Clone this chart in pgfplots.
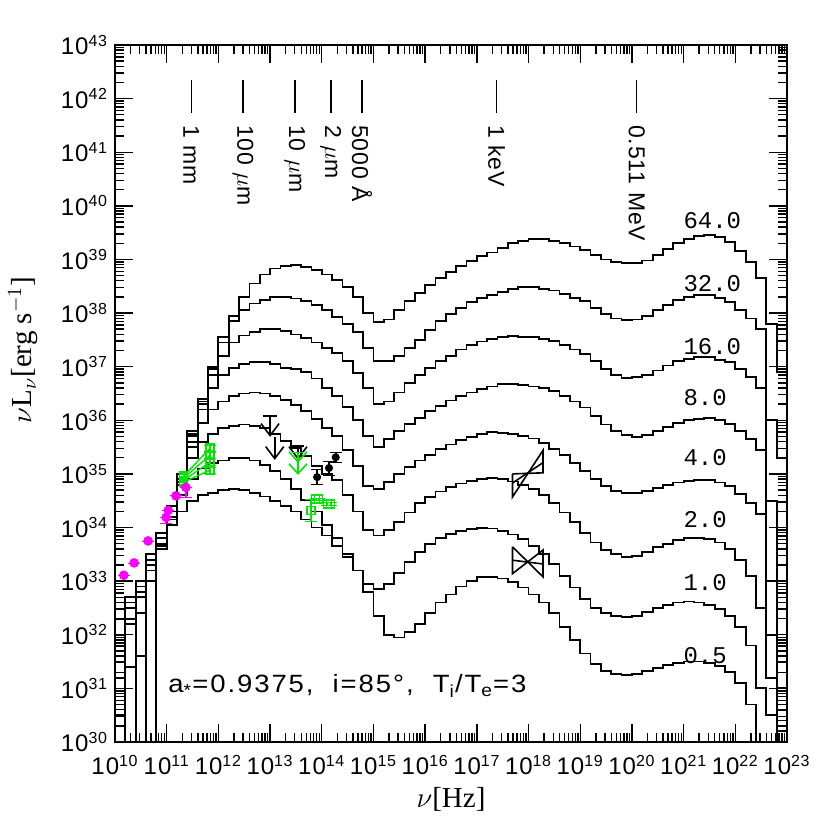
\documentclass[border=0pt]{standalone}
\usepackage{pgfplots}
\pgfplotsset{compat=1.18}
\usepackage{pgfplotstable}
\usetikzlibrary{arrows.meta}
\usepackage{fontspec}
\setmainfont{Liberation Sans}
\newfontfamily\serif{Liberation Serif}
\newfontfamily\mono{Liberation Mono}
\newfontfamily\wide[LetterSpace=7]{Liberation Sans}
\newfontfamily\tickf[LetterSpace=4]{Liberation Sans}
\definecolor{mag}{RGB}{255,0,255}
\definecolor{grn}{RGB}{0,230,0}
\pgfplotsset{/pgfplots/table/lg/.style={x expr={10^(\thisrow{x})}, y expr={10^(\thisrow{y})}}}

\pgfplotstableread{
x c64 c32 c16 c8 c4 c2 c1 c05
10.0 31.2 29 32.0 30.5 31.8 32.3 29 31.5
10.2 32.5 32.7 31.4 32.6 29 32.2 32.6 32.3
10.4 29 32.9 33.0 32.4 32.8 31.6 32.7 32.8
10.6 33.3 33.0 33.4 33.5 33.2 33.4 33.3 29
10.8 33.9 33.7 33.6 33.9 33.8 33.7 33.7 33.65
11.0 34.4 34.3 34.4 34.3 34.2 34.2 34.15 34.05
11.2 35.0 35.0 35.0 34.9 34.85 34.8 34.6 34.3
11.4 35.8 35.75 35.7 35.6 35.5 35.3 34.9 34.5
11.6 36.4 36.35 36.3 36.2 35.95 35.6 35.1 34.6
11.8 37.0 36.95 36.85 36.6 36.2 35.75 35.2 34.65
12.0 37.55 37.45 37.2 36.85 36.35 35.85 35.25 34.7
12.2 37.95 37.85 37.45 36.97 36.45 35.9 35.29 34.72
12.4 38.3 38.05 37.58 37.05 36.5 35.92 35.29 34.7
12.6 38.55 38.18 37.65 37.08 36.52 35.9 35.25 34.64
12.8 38.72 38.25 37.7 37.09 36.5 35.85 35.17 34.58
13.0 38.83 38.3 37.7 37.05 36.45 35.75 35.05 34.5
13.2 38.88 38.3 37.66 36.98 36.38 35.62 34.9 34.4
13.4 38.9 38.27 37.6 36.95 36.28 35.48 34.72 34.3
13.6 38.86 38.23 37.54 36.9 36.18 35.33 34.52 34.15
13.8 38.8 38.15 37.45 36.78 36.02 35.15 34.3 34.0
14.0 38.72 38.05 37.35 36.6 35.85 35.0 34.05 33.85
14.2 38.62 37.93 37.25 36.45 35.7 34.88 33.8 33.65
14.4 38.48 37.8 37.1 36.25 35.45 34.6 33.5 33.45
14.6 38.3 37.64 36.88 36.0 35.15 34.3 33.2 33.2
14.8 38.0 37.35 36.6 35.7 34.78 33.95 32.95 32.8
15.0 37.83 37.1 36.3 35.5 34.72 33.85 32.85 32.35
15.2 37.88 37.1 36.35 35.65 34.85 33.95 32.95 32.0
15.4 38.05 37.2 36.52 35.8 35.0 34.1 33.15 31.95
15.6 38.22 37.35 36.7 35.93 35.13 34.28 33.35 32.05
15.8 38.38 37.5 36.85 36.05 35.25 34.45 33.55 32.2
16.0 38.52 37.68 36.98 36.17 35.36 34.57 33.7 32.4
16.2 38.65 37.85 37.1 36.27 35.46 34.67 33.8 32.6
16.4 38.76 37.98 37.2 36.37 35.55 34.75 33.88 32.75
16.6 38.88 38.1 37.32 36.45 35.63 34.82 33.93 32.9
16.8 38.97 38.2 37.4 36.52 35.69 34.87 33.97 33.0
17.0 39.06 38.28 37.47 36.58 35.74 34.9 33.99 33.07
17.2 39.13 38.34 37.52 36.63 35.78 34.92 33.98 33.08
17.4 39.22 38.4 37.55 36.67 35.77 34.9 33.94 33.05
17.6 39.3 38.45 37.57 36.68 35.75 34.86 33.87 32.98
17.8 39.35 38.49 37.56 36.66 35.71 34.8 33.78 32.88
18.0 39.38 38.48 37.55 36.63 35.66 34.72 33.65 32.75
18.2 39.38 38.45 37.52 36.6 35.58 34.6 33.5 32.6
18.4 39.34 38.42 37.48 36.55 35.47 34.45 33.32 32.4
18.6 39.3 38.35 37.4 36.45 35.35 34.28 33.1 32.15
18.8 39.24 38.28 37.32 36.35 35.2 34.1 32.88 31.9
19.0 39.17 38.22 37.24 36.24 35.05 33.9 32.67 31.65
19.2 39.08 38.1 37.1 36.08 34.9 33.72 32.5 31.45
19.4 39.0 37.98 36.95 35.92 34.77 33.58 32.4 31.33
19.6 38.95 37.9 36.85 35.8 34.68 33.5 32.35 31.27
19.8 38.93 37.87 36.79 35.72 34.64 33.45 32.33 31.25
20.0 38.93 37.88 36.8 35.69 34.64 33.47 32.35 31.27
20.2 38.98 37.95 36.85 35.72 34.68 33.55 32.42 31.32
20.4 39.08 38.05 36.93 35.8 34.74 33.63 32.5 31.38
20.6 39.2 38.15 37.02 35.88 34.8 33.7 32.55 31.43
20.8 39.3 38.25 37.1 35.95 34.84 33.76 32.6 31.47
21.0 39.38 38.3 37.15 36.0 34.87 33.8 32.62 31.5
21.2 39.43 38.34 37.18 36.03 34.88 33.8 32.6 31.5
21.4 39.45 38.34 37.18 36.04 34.88 33.78 32.55 31.48
21.6 39.42 38.28 37.13 36.0 34.84 33.72 32.48 31.42
21.8 39.32 38.2 37.08 35.93 34.78 33.6 32.35 31.3
22.0 39.15 38.05 36.95 35.8 34.62 33.4 32.15 31.1
22.2 38.95 37.9 36.8 35.65 34.45 33.1 31.8 30.7
22.4 38.65 37.7 36.6 35.45 34.25 32.5 31.0 29
22.6 37.8 36.0 34.5 33.0 32.0 31.2 30.5 29
22.8 36.9 35.3 31.0 31.5 30.6 30.2 31.8 30.4
23.0 29 29 29 29 29 29 29 29
}\sed

\begin{document}
\begin{tikzpicture}
\begin{axis}[
  scale only axis, width=336pt, height=348.5pt,
  xmode=log, ymode=log, log basis x=10, log basis y=10,
  xmin=1e10, xmax=1e23, ymin=1e30, ymax=1e43,
  xtick={1e10,1e11,1e12,1e13,1e14,1e15,1e16,1e17,1e18,1e19,1e20,1e21,1e22,1e23},
  ytick={1e30,1e31,1e32,1e33,1e34,1e35,1e36,1e37,1e38,1e39,1e40,1e41,1e42,1e43},
  minor xtick={2e10,3e10,4e10,5e10,6e10,7e10,8e10,9e10,
    2e11,3e11,4e11,5e11,6e11,7e11,8e11,9e11,
    2e12,3e12,4e12,5e12,6e12,7e12,8e12,9e12,
    2e13,3e13,4e13,5e13,6e13,7e13,8e13,9e13,
    2e14,3e14,4e14,5e14,6e14,7e14,8e14,9e14,
    2e15,3e15,4e15,5e15,6e15,7e15,8e15,9e15,
    2e16,3e16,4e16,5e16,6e16,7e16,8e16,9e16,
    2e17,3e17,4e17,5e17,6e17,7e17,8e17,9e17,
    2e18,3e18,4e18,5e18,6e18,7e18,8e18,9e18,
    2e19,3e19,4e19,5e19,6e19,7e19,8e19,9e19,
    2e20,3e20,4e20,5e20,6e20,7e20,8e20,9e20,
    2e21,3e21,4e21,5e21,6e21,7e21,8e21,9e21,
    2e22,3e22,4e22,5e22,6e22,7e22,8e22,9e22},
  minor ytick={2e30,3e30,4e30,5e30,6e30,7e30,8e30,9e30,
    2e31,3e31,4e31,5e31,6e31,7e31,8e31,9e31,
    2e32,3e32,4e32,5e32,6e32,7e32,8e32,9e32,
    2e33,3e33,4e33,5e33,6e33,7e33,8e33,9e33,
    2e34,3e34,4e34,5e34,6e34,7e34,8e34,9e34,
    2e35,3e35,4e35,5e35,6e35,7e35,8e35,9e35,
    2e36,3e36,4e36,5e36,6e36,7e36,8e36,9e36,
    2e37,3e37,4e37,5e37,6e37,7e37,8e37,9e37,
    2e38,3e38,4e38,5e38,6e38,7e38,8e38,9e38,
    2e39,3e39,4e39,5e39,6e39,7e39,8e39,9e39,
    2e40,3e40,4e40,5e40,6e40,7e40,8e40,9e40,
    2e41,3e41,4e41,5e41,6e41,7e41,8e41,9e41,
    2e42,3e42,4e42,5e42,6e42,7e42,8e42,9e42},
  xtick pos=both, ytick pos=both, tick align=inside,
  major tick length=9pt, minor tick length=4.5pt,
  axis line style={line width=1pt},
  tick style={black, line width=0.7pt},
  log number format basis/.code 2 args={#1\textsuperscript{\pgfmathprintnumber[assume math mode=true]{#2}}},
  tick label style={font=\tickf\fontsize{12}{14}\selectfont},
  xticklabel style={yshift=-3pt},
  xlabel={$\nu$[Hz]},
  ylabel={$\nu$L$_{\nu}$[erg s$^{-1}$]},
  xlabel style={at={(axis description cs:0.5,-0.083)}, anchor=center, font=\serif\fontsize{14.5}{16}\selectfont},
  ylabel style={at={(axis description cs:-0.137,0.5625)}, anchor=center, font=\serif\fontsize{14.5}{16}\selectfont},
]
% model SEDs
\addplot[const plot, black, line width=0.9pt] table[x expr={10^(\thisrow{x})}, y expr={10^(\thisrow{c64})}] {\sed};
\addplot[const plot, black, line width=0.9pt] table[x expr={10^(\thisrow{x})}, y expr={10^(\thisrow{c32})}] {\sed};
\addplot[const plot, black, line width=0.9pt] table[x expr={10^(\thisrow{x})}, y expr={10^(\thisrow{c16})}] {\sed};
\addplot[const plot, black, line width=0.9pt] table[x expr={10^(\thisrow{x})}, y expr={10^(\thisrow{c8})}] {\sed};
\addplot[const plot, black, line width=0.9pt] table[x expr={10^(\thisrow{x})}, y expr={10^(\thisrow{c4})}] {\sed};
\addplot[const plot, black, line width=0.9pt] table[x expr={10^(\thisrow{x})}, y expr={10^(\thisrow{c2})}] {\sed};
\addplot[const plot, black, line width=0.9pt] table[x expr={10^(\thisrow{x})}, y expr={10^(\thisrow{c1})}] {\sed};
\addplot[const plot, black, line width=0.9pt] table[x expr={10^(\thisrow{x})}, y expr={10^(\thisrow{c05})}] {\sed};

% wavelength markers
\addplot[black, line width=0.8pt] coordinates {(2.998e11,2.24e42) (2.998e11,5.37e41)};
\addplot[black, line width=0.8pt] coordinates {(2.998e12,2.24e42) (2.998e12,5.37e41)};
\addplot[black, line width=0.8pt] coordinates {(2.998e13,2.24e42) (2.998e13,5.37e41)};
\addplot[black, line width=0.8pt] coordinates {(1.499e14,2.24e42) (1.499e14,5.37e41)};
\addplot[black, line width=0.8pt] coordinates {(5.996e14,2.24e42) (5.996e14,5.37e41)};
\addplot[black, line width=0.8pt] coordinates {(2.418e17,2.24e42) (2.418e17,5.37e41)};
\addplot[black, line width=0.8pt] coordinates {(1.2356e20,2.24e42) (1.2356e20,5.37e41)};
\begin{scope}[every node/.style={rotate=-90, anchor=west, inner sep=0pt, font=\tickf\fontsize{11.5}{13}\selectfont}]
\node at (axis cs:2.998e11,3.24e41) {1 mm};
\node at (axis cs:2.998e12,3.24e41) {100 $\mu$m};
\node at (axis cs:2.998e13,3.24e41) {10 $\mu$m};
\node at (axis cs:1.499e14,3.24e41) {2 $\mu$m};
\node at (axis cs:5.996e14,3.24e41) {5000 Å};
\node at (axis cs:2.418e17,3.24e41) {1 keV};
\node at (axis cs:1.2356e20,3.24e41) {0.511 MeV};
\end{scope}

% green fan of spectra
\addplot[grn, line width=0.7pt, mark=square, mark size=2pt] table[lg] {
x y
11.33 34.96
11.84 35.48
};
\addplot[grn, line width=0.7pt, mark=square, mark size=2pt] table[lg] {
x y
11.33 34.92
11.84 35.35
};
\addplot[grn, line width=0.7pt, mark=square, mark size=2pt] table[lg] {
x y
11.33 34.88
11.84 35.22
};
\addplot[grn, line width=0.7pt, mark=square, mark size=2pt] table[lg] {
x y
11.33 34.85
11.84 35.07
};
% green squares with error bars
\addplot[only marks, grn, mark=square, mark size=2pt, mark options={line width=0.7pt},
  error bars/.cd, y dir=both, y explicit relative,
  error bar style={grn, line width=0.7pt}, error mark options={rotate=90, mark size=3pt, grn}]
  table[lg, y error plus=ep, y error minus=em] {
x y ep em
11.84 35.48 0.148 0.129
11.84 35.35 0.148 0.129
11.84 35.22 0.148 0.129
11.84 35.07 0.148 0.129
13.79 34.32 0.585 0.369
13.88 34.53 0.05 0.05
13.94 34.53 0.05 0.05
14.11 34.44 0.05 0.05
14.17 34.44 0.05 0.05
};

% magenta points
\addplot[only marks, mag, mark=*, mark size=2.2pt,
  error bars/.cd, y dir=both, y explicit relative,
  error bar style={mag, line width=0.8pt}, error mark options={rotate=90, mark size=3pt, mag}]
  table[lg, y error plus=ep, y error minus=em] {
x y ep em
10.17 33.11 0 0
10.37 33.34 0 0
10.64 33.75 0 0
10.99 34.19 0 0.224
11.03 34.32 0 0
11.18 34.59 0 0
11.37 34.75 0 0.34
};

% black points with error bars
\addplot[only marks, black, mark=*, mark size=1.8pt,
  error bars/.cd, y dir=both, y explicit relative,
  error bar style={black, line width=0.8pt}, error mark options={rotate=90, mark size=3pt, black}]
  table[lg, y error plus=ep, y error minus=em] {
x y ep em
13.91 34.94 0.38 0.276
14.14 35.11 0.349 0.259
14.27 35.31 0.259 0.206
};

% upper limits
\addplot[black, line width=0.8pt] table[lg] {
x y
12.87 36.08
13.13 36.08
};
\addplot[black, line width=0.8pt, -{Straight Barb[length=6pt,width=9pt]}] table[lg] {
x y
13.0 36.08
13.0 35.69
};
\addplot[black, line width=0.8pt, -{Straight Barb[length=6pt,width=9pt]}] table[lg] {
x y
13.09 35.69
13.09 35.26
};
\addplot[black, line width=0.8pt] table[lg] {
x y
13.42 35.52
13.66 35.52
};
\addplot[black, line width=0.8pt, -{Straight Barb[length=6pt,width=9pt]}] table[lg] {
x y
13.54 35.52
13.54 35.26
};
\addplot[grn, line width=0.8pt] table[lg] {
x y
13.42 35.40
13.66 35.40
};
\addplot[grn, line width=0.8pt, -{Straight Barb[length=5pt,width=9pt] Straight Barb[length=5pt,width=9pt]}] table[lg] {
x y
13.54 35.40
13.54 34.98
};

% X-ray bowties
\addplot[black, line width=0.8pt] table[lg] {
x y
17.69 35.0
18.28 35.02
18.28 35.44
17.69 34.57
17.69 35.0
};
\addplot[black, line width=0.8pt] table[lg] {
x y
17.69 34.83
18.28 35.21
};
\addplot[black, line width=0.8pt] table[lg] {
x y
17.69 33.64
18.28 33.08
18.28 33.58
17.69 33.14
17.69 33.64
};
\addplot[black, line width=0.8pt] table[lg] {
x y
17.69 33.39
18.28 33.32
};

% curve labels
\begin{scope}[every node/.style={anchor=west, inner sep=0pt, font=\mono\fontsize{12}{14}\selectfont}]
\node at (axis cs:9.77e20,5.37e39) {64.0};
\node at (axis cs:9.77e20,3.47e38) {32.0};
\node at (axis cs:9.77e20,2.40e37) {16.0};
\node at (axis cs:9.77e20,2.69e36) {8.0};
\node at (axis cs:9.77e20,2.04e35) {4.0};
\node at (axis cs:9.77e20,1.38e34) {2.0};
\node at (axis cs:9.77e20,9.55e32) {1.0};
\node at (axis cs:9.77e20,4.17e31) {0.5};
\end{scope}
\node[anchor=west, inner sep=0pt, xscale=1.1, font=\wide\fontsize{12.5}{15}\selectfont] at (axis cs:1.06e11,1.10e31)
  {a\textsubscript{*}=0.9375,\ \ i=85°,\ \ T\textsubscript{i}/T\textsubscript{e}=3};
\end{axis}
\pgfresetboundingbox
\path (current axis.south west) ++(-57.5pt,-44pt) rectangle ++(415pt,415pt);
\end{tikzpicture}
\end{document}
